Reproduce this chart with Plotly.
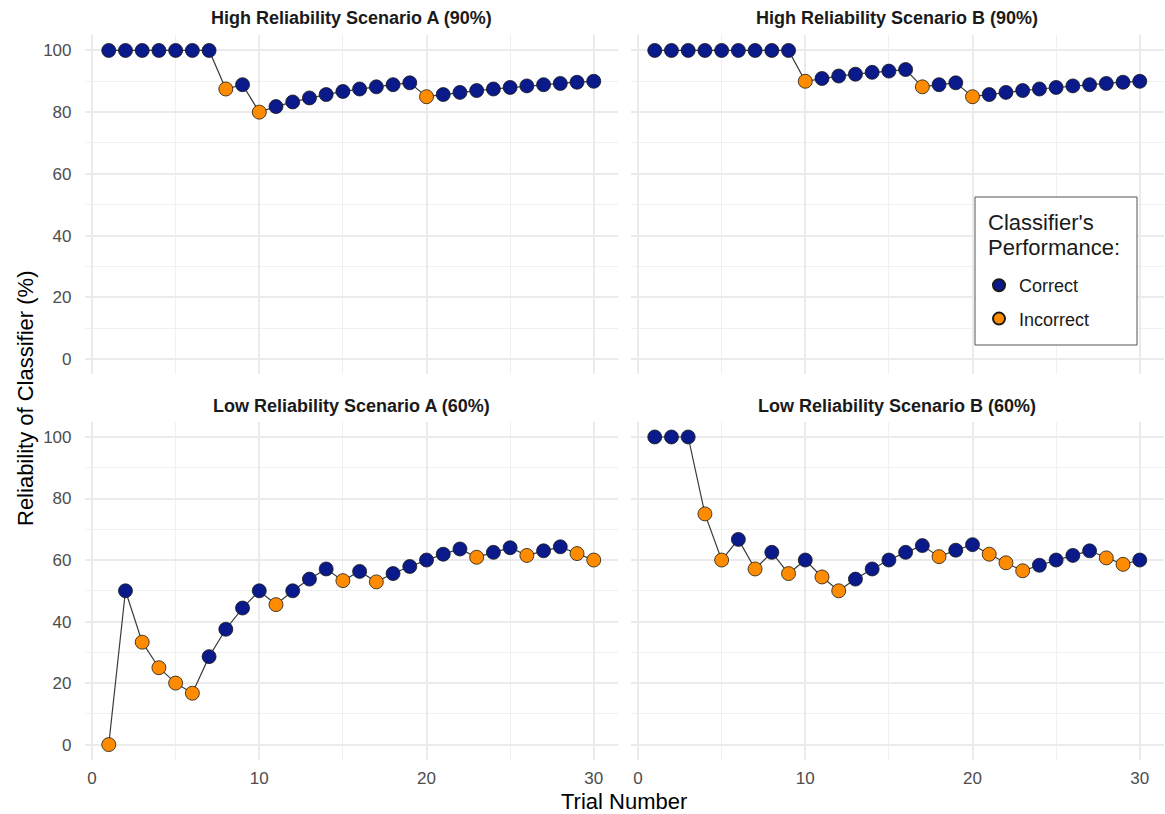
import plotly.graph_objects as go

trials = list(range(1, 31))

panel_titles = [
    "High Reliability Scenario A (90%)",
    "High Reliability Scenario B (90%)",
    "Low Reliability Scenario A (60%)",
    "Low Reliability Scenario B (60%)",
]

legend_title_lines = ["Classifier's", "Performance:"]

high_a_values = [100, 100, 100, 100, 100, 100, 100, 87.5, 88.9, 80.0,
                 81.8, 83.3, 84.6, 85.7, 86.7, 87.5, 88.2, 88.9, 89.5, 85.0,
                 85.7, 86.4, 87.0, 87.5, 88.0, 88.5, 88.9, 89.3, 89.7, 90.0]
high_a_outcome = ["C"] * 7 + ["I", "C", "I"] + ["C"] * 9 + ["I"] + ["C"] * 10

high_b_values = [100, 100, 100, 100, 100, 100, 100, 100, 100, 90.0,
                 90.9, 91.7, 92.3, 92.9, 93.3, 93.8, 88.2, 88.9, 89.5, 85.0,
                 85.7, 86.4, 87.0, 87.5, 88.0, 88.5, 88.9, 89.3, 89.7, 90.0]
high_b_outcome = ["C"] * 9 + ["I"] + ["C"] * 6 + ["I", "C", "C", "I"] + ["C"] * 10

low_a_values = [0, 50.0, 33.3, 25.0, 20.0, 16.7, 28.6, 37.5, 44.4, 50.0,
                45.5, 50.0, 53.8, 57.1, 53.3, 56.3, 52.9, 55.6, 57.9, 60.0,
                61.9, 63.6, 60.9, 62.5, 64.0, 61.5, 63.0, 64.3, 62.1, 60.0]
low_a_outcome = ["I", "C", "I", "I", "I", "I", "C", "C", "C", "C",
                 "I", "C", "C", "C", "I", "C", "I", "C", "C", "C",
                 "C", "C", "I", "C", "C", "I", "C", "C", "I", "I"]

low_b_values = [100, 100, 100, 75.0, 60.0, 66.7, 57.1, 62.5, 55.6, 60.0,
                54.5, 50.0, 53.8, 57.1, 60.0, 62.5, 64.7, 61.1, 63.2, 65.0,
                61.9, 59.1, 56.5, 58.3, 60.0, 61.5, 63.0, 60.7, 58.6, 60.0]
low_b_outcome = ["C", "C", "C", "I", "I", "C", "I", "C", "I", "C",
                 "I", "I", "C", "C", "C", "C", "C", "I", "C", "C",
                 "I", "I", "I", "C", "C", "C", "C", "I", "I", "C"]

x_ticks = [0, 10, 20, 30]
y_ticks = [0, 20, 40, 60, 80, 100]

panels = [
    (high_a_values, high_a_outcome),
    (high_b_values, high_b_outcome),
    (low_a_values, low_a_outcome),
    (low_b_values, low_b_outcome),
]

COLORS = {"C": "#0A1A8A", "I": "#FF8C00"}
NAMES = {"C": "Correct", "I": "Incorrect"}
FONT = "Liberation Sans, Arial, sans-serif"

W, H = 1165, 814
ml, mr, mt, mb = 84, 1, 35, 54
pw = W - ml - mr
ph = H - mt - mb

def px_x(p):
    return (p - ml) / pw

def px_y(p):
    return (H - mb - p) / ph

x_domains = [[px_x(84.5), px_x(618)], [px_x(630.5), px_x(1164)]]
y_domains = [[px_y(374.4), 1.0], [0.0, px_y(421.6)]]

fig = go.Figure()

for i, (vals, outs) in enumerate(panels):
    axn = "" if i == 0 else str(i + 1)
    xa, ya = "x" + axn, "y" + axn
    fig.add_trace(go.Scatter(
        x=trials, y=vals, mode="lines",
        line=dict(color="#3A3A3A", width=1.2),
        xaxis=xa, yaxis=ya, showlegend=False, hoverinfo="skip"))
    for k in ["C", "I"]:
        xs = [t for t, o in zip(trials, outs) if o == k]
        ys = [v for v, o in zip(vals, outs) if o == k]
        fig.add_trace(go.Scatter(
            x=xs, y=ys, mode="markers", name=NAMES[k],
            marker=dict(color=COLORS[k], size=14,
                        line=dict(color="#1a1a1a", width=0.8)),
            xaxis=xa, yaxis=ya, showlegend=(i == 1), legendgroup=k))

axis_common = dict(
    showgrid=True, gridcolor="#EBEBEB", gridwidth=1.5,
    zeroline=False, showline=False, ticks="",
    tickfont=dict(family=FONT, size=17, color="#4D4D4D"),
)

layout = {}
for i in range(4):
    axn = "" if i == 0 else str(i + 1)
    col = i % 2
    row = i // 2
    layout["xaxis" + axn] = dict(
        axis_common,
        domain=x_domains[col], range=[-0.45, 31.45],
        tickvals=x_ticks, showticklabels=(row == 1),
        minor=dict(dtick=5, tick0=0, showgrid=True, gridcolor="#F0F0F0", gridwidth=0.8),
        anchor="y" + axn,
        ticklabelstandoff=6,
    )
    layout["yaxis" + axn] = dict(
        axis_common,
        domain=y_domains[row], range=[-5, 105],
        tickvals=y_ticks, showticklabels=(col == 0),
        minor=dict(dtick=10, tick0=0, showgrid=True, gridcolor="#F0F0F0", gridwidth=0.8),
        anchor="x" + axn,
        ticklabelstandoff=12,
    )

annotations = []
title_y = [px_y(18), px_y(406)]
for i, t in enumerate(panel_titles):
    col, row = i % 2, i // 2
    annotations.append(dict(
        text="<b>" + t + "</b>", xref="paper", yref="paper",
        x=sum(x_domains[col]) / 2, y=title_y[row],
        xanchor="center", yanchor="middle", showarrow=False,
        font=dict(family=FONT, size=18, color="#1A1A1A")))
annotations.append(dict(
    text="Trial Number", xref="paper", yref="paper",
    x=px_x(624), y=px_y(801), xanchor="center", yanchor="middle",
    showarrow=False, font=dict(family=FONT, size=22, color="#000000")))
annotations.append(dict(
    text="Reliability of Classifier (%)", xref="paper", yref="paper",
    x=px_x(25), y=px_y(398), xanchor="center", yanchor="middle", textangle=-90,
    showarrow=False, font=dict(family=FONT, size=22, color="#000000")))
for line_text, ypix in zip(legend_title_lines, [222, 247]):
    annotations.append(dict(
        text=line_text, xref="paper", yref="paper",
        x=px_x(986), y=px_y(ypix), xanchor="left", yanchor="middle",
        showarrow=False, font=dict(family=FONT, size=22, color="#1A1A1A")))

shapes = [dict(
    type="rect", xref="paper", yref="paper",
    x0=px_x(975), x1=px_x(1137), y0=px_y(345), y1=px_y(197),
    line=dict(color="#555555", width=1), fillcolor="white", layer="above")]

fig.update_layout(
    **layout,
    width=W, height=H,
    margin=dict(l=ml, r=mr, t=mt, b=mb),
    paper_bgcolor="white", plot_bgcolor="white",
    annotations=annotations,
    shapes=shapes,
    legend=dict(
        font=dict(family=FONT, size=18, color="#1A1A1A"),
        x=px_x(977), y=px_y(267), xanchor="left", yanchor="top",
        borderwidth=0, bgcolor="rgba(0,0,0,0)",
        itemsizing="constant", tracegroupgap=7,
        indentation=2,
    ),
)

fig.write_html("out.html")
